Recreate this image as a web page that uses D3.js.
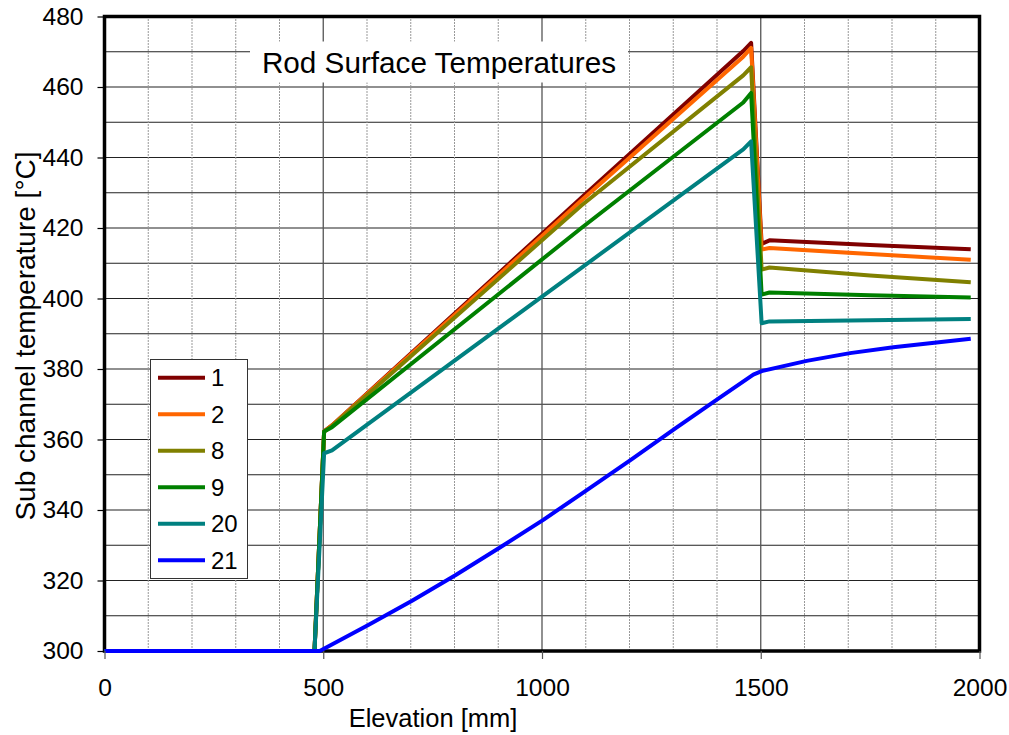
<!DOCTYPE html>
<html>
<head>
<meta charset="utf-8">
<script src="https://cdn.jsdelivr.net/npm/d3@7"></script>
<style>
  body { margin: 0; background: #fff; }
  svg { font-family: Arial, "Liberation Sans", sans-serif; }
</style>
</head>
<body>
<svg id="chart" width="1009" height="735"></svg>
<script>
// series names and colours (legend order)
var seriesNames = ["1", "2", "8", "9", "20", "21"];
var seriesColors = ["#800000", "#ff6600", "#808000", "#008000", "#008080", "#0000ff"];

// elevation points [mm] shared by rods 1, 2, 8, 9, 20
var rodElev = [0, 480, 502, 520, 1090, 1460, 1478, 1502, 1520, 1750, 1980];
var temp1  = [300, 300, 362.3, 364.0, 428.6, 470.2, 472.5, 415.5, 416.5, 415.2, 414.0];
var temp2  = [300, 300, 362.3, 364.0, 427.8, 468.6, 471.1, 413.9, 414.3, 412.6, 411.0];
var temp8  = [300, 300, 362.3, 363.8, 426.4, 463.3, 465.6, 408.2, 408.8, 406.5, 404.6];
var temp9  = [300, 300, 362.3, 363.5, 420.0, 455.6, 458.3, 401.1, 401.7, 400.9, 400.3];
var temp20 = [300, 300, 356.1, 356.9, 408.7, 442.3, 444.6, 393.0, 393.5, 393.8, 394.2];

// rod 21 has its own elevation points
var elev21 = [0, 492, 603, 702, 801, 902, 1003, 1090, 1203, 1304, 1403, 1483, 1502, 1605, 1704, 1803, 1902, 1980];
var temp21 = [300, 300, 307.4, 314.2, 321.4, 329.2, 337.2, 344.6, 354.2, 363.1, 371.6, 378.4, 379.4, 382.3, 384.5, 386.2, 387.5, 388.6];

// axis ticks
var xTicks = [0, 500, 1000, 1500, 2000];
var yTicks = [300, 320, 340, 360, 380, 400, 420, 440, 460, 480];

var svg = d3.select("#chart");

function zipSeries(xs, ys) { return xs.map(function (x, i) { return {x: x, y: ys[i]}; }); }
var series = [
  zipSeries(rodElev, temp1),
  zipSeries(rodElev, temp2),
  zipSeries(rodElev, temp8),
  zipSeries(rodElev, temp9),
  zipSeries(rodElev, temp20),
  zipSeries(elev21, temp21)
];

var x = d3.scaleLinear().domain([0, 2000]).range([104.5, 979.5]);
var y = d3.scaleLinear().domain([300, 480]).range([651, 16.5]);

// grid: horizontal every 10, vertical every 100
svg.append("g")
  .selectAll("line")
  .data(d3.range(310, 480, 10))
  .enter().append("line")
    .attr("x1", x(0)).attr("x2", x(2000))
    .attr("y1", function (d) { return y(d); })
    .attr("y2", function (d) { return y(d); })
    .attr("stroke", "#222")
    .attr("stroke-width", 1.2);

svg.append("g")
  .selectAll("line")
  .data(d3.range(100, 2000, 100))
  .enter().append("line")
    .attr("x1", function (d) { return x(d); })
    .attr("x2", function (d) { return x(d); })
    .attr("y1", y(300)).attr("y2", y(480))
    .attr("stroke", function (d) { return d % 500 === 0 ? "#555" : "#999"; })
    .attr("stroke-dasharray", function (d) { return d % 500 === 0 ? null : "2,1"; })
    .attr("stroke-width", function (d) { return d % 500 === 0 ? 1.3 : 1; });

// title box
svg.append("rect")
  .attr("x", 250).attr("y", 41.5)
  .attr("width", 378).attr("height", 41)
  .attr("fill", "#fff");
svg.append("text")
  .attr("x", 439).attr("y", 72.5)
  .attr("text-anchor", "middle")
  .style("font-size", "29.7px")
  .text("Rod Surface Temperatures");

// frame
svg.append("rect")
  .attr("x", x(0)).attr("y", y(480))
  .attr("width", x(2000) - x(0)).attr("height", y(300) - y(480))
  .attr("fill", "none")
  .attr("stroke", "#000")
  .attr("stroke-width", 3.5);

// lines
var line = d3.line()
  .x(function (d) { return x(d.x); })
  .y(function (d) { return y(d.y); });

svg.append("g")
  .selectAll("path")
  .data(series)
  .enter().append("path")
    .attr("d", line)
    .attr("fill", "none")
    .attr("stroke", function (d, i) { return seriesColors[i]; })
    .attr("stroke-width", 4)
    .attr("stroke-linejoin", "round");

// y axis ticks and labels
var yAxis = svg.append("g").attr("transform", "translate(" + x(0) + ",0)")
  .call(d3.axisLeft(y).tickValues(yTicks).tickSize(7).tickPadding(14).tickFormat(d3.format("d")));
yAxis.select(".domain").remove();
yAxis.selectAll(".tick line").attr("stroke", "#000").attr("stroke-width", 1.2);
yAxis.selectAll("text").style("font-size", "24.6px").attr("fill", "#000").attr("font-family", null);

// x axis ticks and labels
var xAxis = svg.append("g").attr("transform", "translate(0," + y(300) + ")")
  .call(d3.axisBottom(x).tickValues(xTicks).tickSize(8).tickPadding(20).tickFormat(d3.format("d")));
xAxis.select(".domain").remove();
xAxis.selectAll(".tick line").attr("stroke", "#555").attr("stroke-width", 1.2);
xAxis.selectAll("text").style("font-size", "24.6px").attr("fill", "#000").attr("font-family", null);

// axis titles
svg.append("text")
  .attr("x", 433).attr("y", 727)
  .attr("text-anchor", "middle")
  .style("font-size", "25.5px")
  .text("Elevation [mm]");

svg.append("text")
  .attr("transform", "translate(35,336)rotate(-90)")
  .attr("text-anchor", "middle")
  .style("font-size", "28px")
  .text("Sub channel temperature [°C]");

// legend
var legend = svg.append("g");
legend.append("rect")
  .attr("x", 150.5).attr("y", 359.5)
  .attr("width", 97).attr("height", 219)
  .attr("fill", "#fff")
  .attr("stroke", "#333")
  .attr("stroke-width", 1);

var items = legend.selectAll("g.item")
  .data(seriesNames)
  .enter().append("g")
    .attr("class", "item")
    .attr("transform", function (d, i) { return "translate(0," + (377.7 + i * 36.5) + ")"; });
items.append("line")
  .attr("x1", 158).attr("x2", 205)
  .attr("stroke", function (d, i) { return seriesColors[i]; })
  .attr("stroke-width", 4);
items.append("text")
  .attr("x", 211).attr("y", 8.5)
  .style("font-size", "24px")
  .text(function (d) { return d; });
</script>
</body>
</html>
